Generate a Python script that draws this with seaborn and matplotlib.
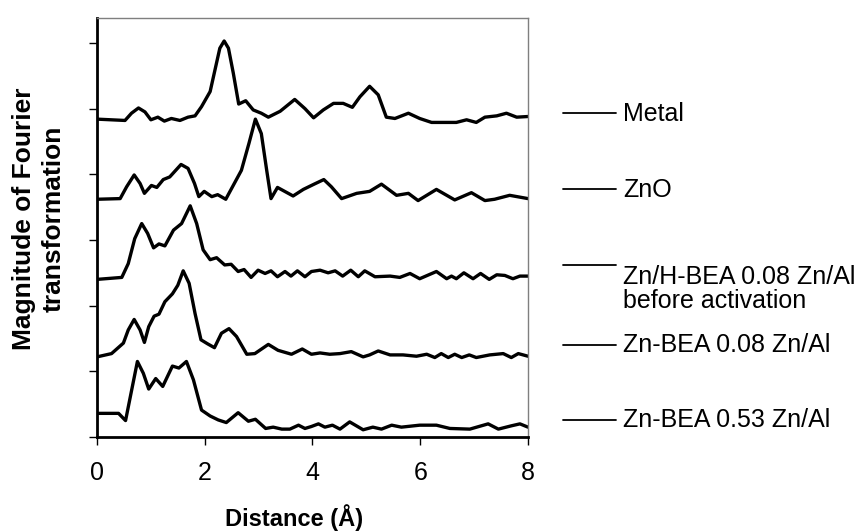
import pandas as pd
import seaborn as sns
import matplotlib

matplotlib.use("Agg")
import matplotlib.pyplot as plt
from matplotlib.lines import Line2D

# Curves (distance in Angstrom, stacked magnitude in tick units)
samples = [
    "Metal",
    "ZnO",
    "Zn/H-BEA 0.08 Zn/Al\nbefore activation",
    "Zn-BEA 0.08 Zn/Al",
    "Zn-BEA 0.53 Zn/Al",
]

metal_x = [0.0, 0.52, 0.64, 0.77, 0.89, 1.0, 1.13, 1.25, 1.38, 1.54, 1.69, 1.82, 1.94,
           2.1, 2.19, 2.28, 2.36, 2.44, 2.53, 2.63, 2.76, 2.9, 3.05, 3.18, 3.4, 3.67,
           3.86, 4.02, 4.2, 4.39, 4.57, 4.74, 4.88, 5.06, 5.22, 5.37, 5.53, 5.78, 5.99,
           6.21, 6.43, 6.67, 6.86, 7.04, 7.2, 7.42, 7.6, 7.79, 8.0]
metal_y = [4.84, 4.82, 4.93, 5.01, 4.95, 4.83, 4.87, 4.81, 4.85, 4.82, 4.87, 4.89, 5.03,
           5.26, 5.59, 5.92, 6.03, 5.92, 5.54, 5.07, 5.12, 4.98, 4.93, 4.87, 4.96, 5.14,
           5.0, 4.86, 4.98, 5.08, 5.08, 5.02, 5.18, 5.34, 5.21, 4.87, 4.85, 4.93, 4.85,
           4.79, 4.79, 4.79, 4.83, 4.79, 4.87, 4.89, 4.93, 4.87, 4.88]

zno_x = [0.0, 0.43, 0.55, 0.69, 0.8, 0.88, 1.01, 1.11, 1.23, 1.35, 1.56, 1.69, 1.81,
         1.89, 1.99, 2.13, 2.24, 2.39, 2.68, 2.82, 2.94, 3.05, 3.15, 3.23, 3.35, 3.64,
         3.83, 4.03, 4.21, 4.35, 4.54, 4.82, 5.06, 5.28, 5.56, 5.78, 5.96, 6.3, 6.64,
         6.95, 7.2, 7.38, 7.66, 8.0]
zno_y = [3.62, 3.63, 3.81, 3.99, 3.86, 3.71, 3.83, 3.8, 3.92, 3.96, 4.15, 4.09, 3.86,
         3.66, 3.74, 3.66, 3.69, 3.62, 4.06, 4.47, 4.84, 4.62, 4.06, 3.63, 3.8, 3.67,
         3.77, 3.85, 3.92, 3.81, 3.63, 3.71, 3.74, 3.85, 3.68, 3.71, 3.6, 3.77, 3.61,
         3.72, 3.6, 3.62, 3.68, 3.63]

hbea_x = [0.0, 0.46, 0.58, 0.7, 0.83, 0.94, 1.05, 1.15, 1.26, 1.42, 1.57, 1.73, 1.85,
          1.97, 2.1, 2.22, 2.37, 2.49, 2.62, 2.73, 2.86, 2.99, 3.12, 3.23, 3.35, 3.49,
          3.6, 3.72, 3.86, 3.98, 4.14, 4.29, 4.42, 4.56, 4.71, 4.85, 4.97, 5.16, 5.44,
          5.62, 5.81, 5.99, 6.3, 6.49, 6.58, 6.67, 6.81, 6.98, 7.12, 7.28, 7.42, 7.57,
          7.72, 7.85, 8.0]
hbea_y = [2.40, 2.43, 2.64, 3.02, 3.25, 3.1, 2.88, 2.94, 2.91, 3.15, 3.25, 3.52, 3.25,
          2.85, 2.7, 2.73, 2.62, 2.63, 2.52, 2.55, 2.43, 2.54, 2.49, 2.53, 2.44, 2.52,
          2.45, 2.53, 2.44, 2.52, 2.54, 2.5, 2.53, 2.45, 2.54, 2.44, 2.53, 2.44, 2.45,
          2.43, 2.49, 2.41, 2.52, 2.41, 2.45, 2.41, 2.5, 2.41, 2.49, 2.4, 2.47, 2.46,
          2.41, 2.45, 2.45]

bea08_x = [0.0, 0.27, 0.49, 0.58, 0.69, 0.8, 0.88, 0.96, 1.06, 1.15, 1.26, 1.4, 1.5,
           1.6, 1.71, 1.82, 1.93, 2.05, 2.18, 2.31, 2.45, 2.59, 2.78, 2.93, 3.18, 3.36,
           3.61, 3.81, 3.98, 4.14, 4.32, 4.51, 4.72, 4.94, 5.06, 5.22, 5.44, 5.68, 5.93,
           6.12, 6.27, 6.39, 6.52, 6.64, 6.77, 6.91, 7.04, 7.29, 7.54, 7.69, 7.82, 8.0]
bea08_y = [1.22, 1.27, 1.43, 1.63, 1.79, 1.63, 1.44, 1.68, 1.84, 1.87, 2.06, 2.18, 2.31,
           2.53, 2.34, 1.88, 1.48, 1.42, 1.36, 1.58, 1.65, 1.53, 1.26, 1.27, 1.41, 1.32,
           1.26, 1.34, 1.26, 1.28, 1.26, 1.27, 1.3, 1.22, 1.25, 1.31, 1.25, 1.25, 1.23,
           1.26, 1.21, 1.27, 1.21, 1.26, 1.21, 1.25, 1.21, 1.25, 1.27, 1.21, 1.27, 1.23]

bea53_x = [0.0, 0.4, 0.53, 0.63, 0.75, 0.86, 0.96, 1.09, 1.22, 1.4, 1.52, 1.66, 1.79,
           1.94, 2.1, 2.25, 2.4, 2.62, 2.81, 2.94, 3.13, 3.27, 3.43, 3.58, 3.74, 3.86,
           3.98, 4.11, 4.23, 4.37, 4.51, 4.69, 4.94, 5.12, 5.28, 5.47, 5.65, 5.99, 6.3,
           6.55, 6.92, 7.26, 7.45, 7.69, 7.85, 8.0]
bea53_y = [0.36, 0.36, 0.25, 0.66, 1.15, 0.97, 0.73, 0.89, 0.77, 1.08, 1.05, 1.15, 0.87,
           0.41, 0.32, 0.26, 0.22, 0.37, 0.24, 0.27, 0.13, 0.15, 0.12, 0.12, 0.18, 0.13,
           0.16, 0.2, 0.15, 0.18, 0.12, 0.23, 0.11, 0.15, 0.12, 0.18, 0.15, 0.18, 0.18,
           0.13, 0.12, 0.2, 0.12, 0.17, 0.2, 0.15]

curves = [(metal_x, metal_y), (zno_x, zno_y), (hbea_x, hbea_y),
          (bea08_x, bea08_y), (bea53_x, bea53_y)]

frames = []
for name, (xs, ys) in zip(samples, curves):
    frames.append(pd.DataFrame({"Distance": xs, "Magnitude": ys, "Sample": name}))
df = pd.concat(frames, ignore_index=True)

sns.set_theme(style="ticks")
plt.rcParams["font.family"] = ["Liberation Sans", "DejaVu Sans"]
plt.rcParams["text.color"] = "black"
plt.rcParams["axes.labelcolor"] = "black"
plt.rcParams["xtick.color"] = "black"
plt.rcParams["ytick.color"] = "black"

fig = plt.figure(figsize=(8.65, 5.32), dpi=100)
ax = fig.add_axes([97 / 865, 1 - 437 / 532, 431 / 865, 419 / 532])

sns.lineplot(
    data=df, x="Distance", y="Magnitude", hue="Sample", units="Sample",
    estimator=None, sort=False, palette=["black"] * 5, legend=False,
    linewidth=2.4, ax=ax,
)
for ln in ax.lines:
    ln.set_solid_joinstyle("round")

ax.set_xlim(0, 8)
ax.set_ylim(0, 6.38)
ax.set_xticks([0, 2, 4, 6, 8])
ax.set_yticks(range(7))
ax.set_yticklabels([])
ax.tick_params(axis="both", direction="out", length=6, width=1, color="black")
ax.tick_params(axis="x", labelsize=18, pad=11, labelcolor="black")

for side in ["left", "bottom"]:
    ax.spines[side].set_color("black")
    ax.spines[side].set_linewidth(2)
for side in ["top", "right"]:
    ax.spines[side].set_visible(True)
    ax.spines[side].set_color("#7f7f7f")
    ax.spines[side].set_linewidth(1)

ax.set_xlabel("Distance (Å)", fontsize=17, fontweight="bold", color="black")
ax.xaxis.set_label_coords((294 - 97) / 431, -0.16)
ax.set_ylabel("Magnitude of Fourier\ntransformation", fontsize=19,
              fontweight="bold", linespacing=1.3, color="black")
ax.yaxis.set_label_coords(-0.072, 0.52)

# legend drawn Excel style, one entry per curve on the right side
line_y = [113, 189, 265, 345, 420]
text_y = [114, 190, 289, 345, 420]
for name, ly, ty in zip(samples, line_y, text_y):
    fig.add_artist(Line2D([563 / 865, 616 / 865], [1 - ly / 532, 1 - ly / 532],
                          color="black", linewidth=1.3))
    fig.text(623 / 865, 1 - ty / 532, name, fontsize=18, va="center", ha="left",
             linespacing=0.95, color="black")

fig.savefig("out.png", dpi=100)
